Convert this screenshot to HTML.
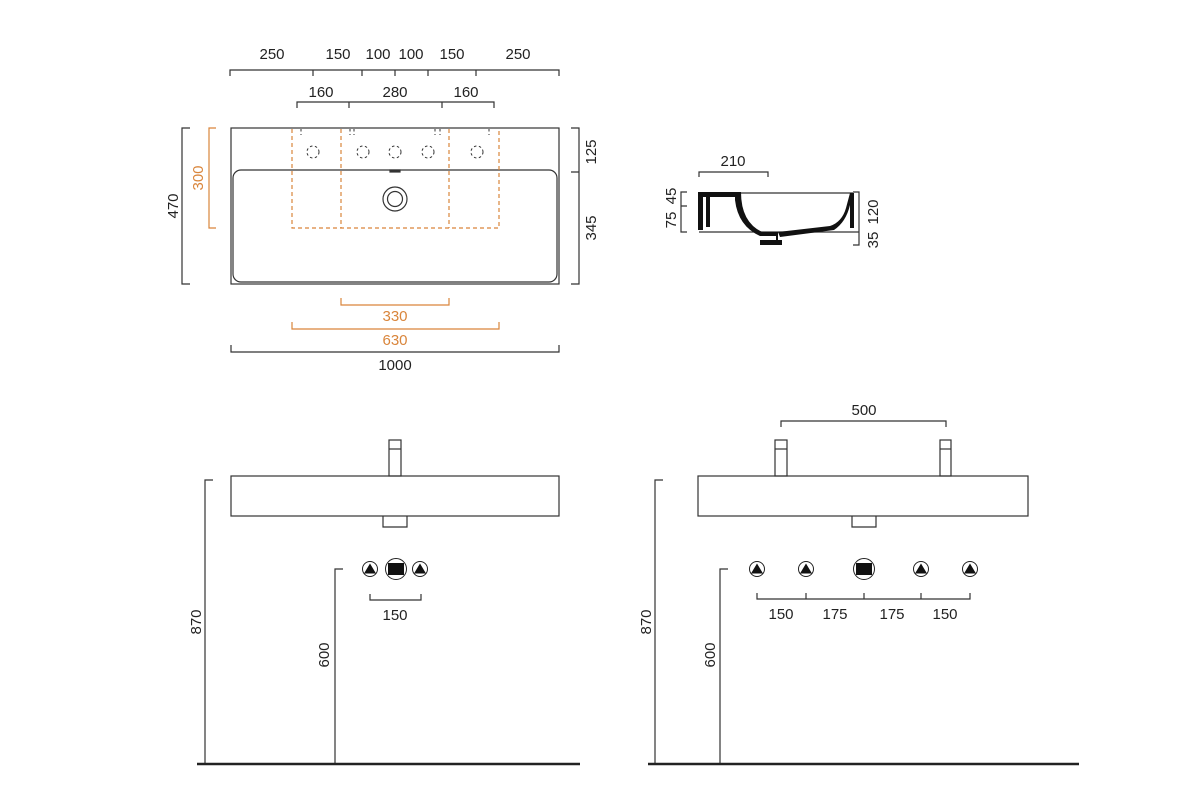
<!DOCTYPE html>
<html><head><meta charset="utf-8"><style>
html,body{margin:0;padding:0;background:#fff;width:1190px;height:795px;overflow:hidden}
svg text{font-family:"Liberation Sans",sans-serif;font-size:15px;fill:#222}
.o{fill:#d9853b}
</style></head><body>
<svg width="1190" height="795" viewBox="0 0 1190 795" xmlns="http://www.w3.org/2000/svg">
<defs>
<g id="tri"><circle r="7.5" fill="#fff" stroke="#222" stroke-width="1"/><path d="M0,-5.5 L6,4.5 L-6,4.5Z" fill="#111"/></g>
<g id="drn"><circle r="10.5" fill="#fff" stroke="#222" stroke-width="1"/><rect x="-8" y="-6" width="16" height="12" fill="#111"/></g>
</defs>
<g fill="none" stroke="#333" stroke-width="1.2">
<path d="M230,76V70H559V76 M313,70V76 M362,70V76 M395,70V76 M428,70V76 M476,70V76"/>
<path d="M297,108V102H494V108 M349,102V108 M442,102V108"/>
<rect x="231" y="128" width="328" height="156"/>
<rect x="233" y="170" width="324" height="112" rx="8"/>
<rect x="390" y="170" width="10" height="2" fill="#333"/>
<circle cx="395" cy="199" r="12"/><circle cx="395" cy="199" r="7.5"/>
<g stroke-dasharray="2.5,2.5" stroke-width="1"><circle cx="313" cy="152" r="6"/><circle cx="363" cy="152" r="6"/><circle cx="395" cy="152" r="6"/><circle cx="428" cy="152" r="6"/><circle cx="477" cy="152" r="6"/>
<path d="M301,129V135 M350,129V135 M354,129V135 M435,129V135 M440,129V135 M489,129V135"/></g>
<path d="M190,128H182V284H190"/>
<path d="M571,128H579V284H571 M579,172H571"/>
<path d="M231,345V352H559V345"/>
</g>
<g fill="none" stroke="#d9853b" stroke-width="1.2">
<path d="M292,129V228H499V129 M341,129V228 M449,129V228" stroke-dasharray="4,3"/>
<path d="M216,128H209V228H216"/>
<path d="M341,298V305H449V298"/>
<path d="M292,322V329H499V322"/>
</g>
<text x="272" y="59" text-anchor="middle">250</text>
<text x="338" y="59" text-anchor="middle">150</text>
<text x="378" y="59" text-anchor="middle">100</text>
<text x="411" y="59" text-anchor="middle">100</text>
<text x="452" y="59" text-anchor="middle">150</text>
<text x="518" y="59" text-anchor="middle">250</text>
<text x="321" y="97" text-anchor="middle">160</text>
<text x="395" y="97" text-anchor="middle">280</text>
<text x="466" y="97" text-anchor="middle">160</text>
<text transform="translate(178,206) rotate(-90)" text-anchor="middle">470</text>
<text class="o" transform="translate(203,178) rotate(-90)" text-anchor="middle">300</text>
<text transform="translate(596,152) rotate(-90)" text-anchor="middle">125</text>
<text transform="translate(596,228) rotate(-90)" text-anchor="middle">345</text>
<text class="o" x="395" y="321" text-anchor="middle">330</text>
<text class="o" x="395" y="345" text-anchor="middle">630</text>
<text x="395" y="370" text-anchor="middle">1000</text>
<!-- side view -->
<g fill="none" stroke="#333" stroke-width="1.2">
<path d="M699,177V172H768V177"/>
<path d="M687,192H681V232H687 M681,206H687"/>
<path d="M853,192H859V245H853 M859,232H853"/>
<path d="M699,193H853 M699,232H853"/>
</g>
<g fill="#111" stroke="none">
<path d="M698,192H741V197H710V227H706V197H703V230H698Z"/>
<path d="M735,192H741 Q741,222 762,232 L778,232 V245 H776 V236 H760 Q738,226 735,200Z"/>
<path d="M760,240H782V245H760Z"/>
<path d="M778,232 L830,226 Q842,222 846,208 L850,193 H854 V228 H850 V205 Q846,222 834,230 L780,237Z"/>
</g>
<path d="M744,197 Q744,222 762,230" fill="none" stroke="#fff" stroke-width="1.5"/>
<text x="733" y="166" text-anchor="middle">210</text>
<text transform="translate(676,196) rotate(-90)" text-anchor="middle">45</text>
<text transform="translate(676,220) rotate(-90)" text-anchor="middle">75</text>
<text transform="translate(878,212) rotate(-90)" text-anchor="middle">120</text>
<text transform="translate(878,240) rotate(-90)" text-anchor="middle">35</text>
<g fill="none" stroke="#333" stroke-width="1.2">
<rect x="231" y="476" width="328" height="40"/>
<rect x="389" y="440" width="12" height="36"/><path d="M389,449H401"/>
<path d="M383,516V527H407V516"/>
<path d="M213,480H205V764 M343,569H335V764"/>
<path d="M370,594V600H421V594"/>
<rect x="698" y="476" width="330" height="40"/>
<rect x="775" y="440" width="12" height="36"/><path d="M775,449H787"/>
<rect x="940" y="440" width="11" height="36"/><path d="M940,449H951"/>
<path d="M852,516V527H876V516"/>
<path d="M781,427V421H946V427"/>
<path d="M663,480H655V764 M728,569H720V764"/>
<path d="M757,593V599H970V593 M806,593V599 M864,593V599 M921,593V599"/>
</g>
<path d="M197,764H580 M648,764H1079" stroke="#222" stroke-width="2.5"/>
<use href="#tri" x="370" y="569"/><use href="#drn" x="396" y="569"/><use href="#tri" x="420" y="569"/>
<use href="#tri" x="757" y="569"/><use href="#tri" x="806" y="569"/><use href="#drn" x="864" y="569"/><use href="#tri" x="921" y="569"/><use href="#tri" x="970" y="569"/>
<text x="395" y="620" text-anchor="middle">150</text>
<text transform="translate(201,622) rotate(-90)" text-anchor="middle">870</text>
<text transform="translate(329,655) rotate(-90)" text-anchor="middle">600</text>
<text x="864" y="415" text-anchor="middle">500</text>
<text x="781" y="619" text-anchor="middle">150</text>
<text x="835" y="619" text-anchor="middle">175</text>
<text x="892" y="619" text-anchor="middle">175</text>
<text x="945" y="619" text-anchor="middle">150</text>
<text transform="translate(651,622) rotate(-90)" text-anchor="middle">870</text>
<text transform="translate(715,655) rotate(-90)" text-anchor="middle">600</text>
</svg>
</body></html>
